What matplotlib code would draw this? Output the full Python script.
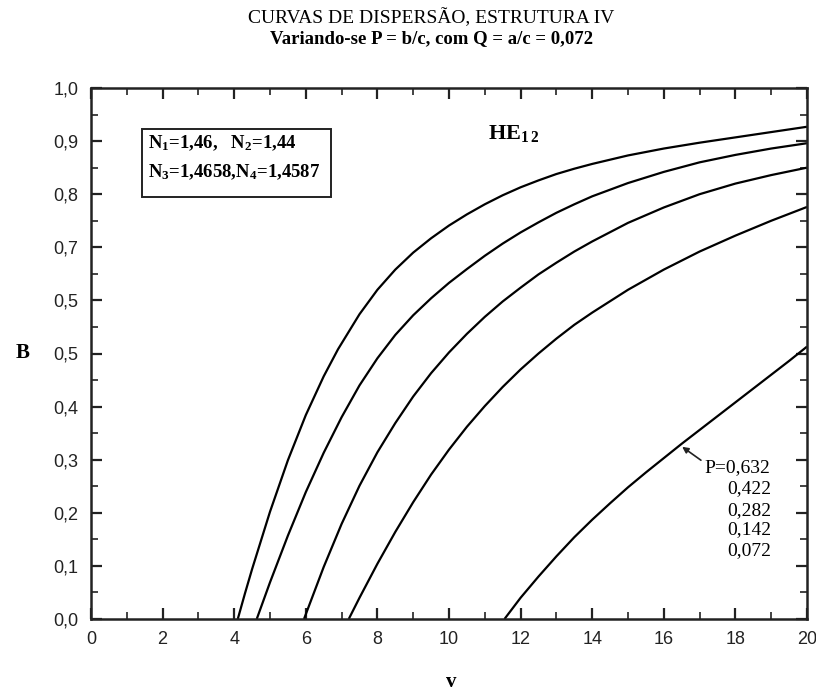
import numpy as np
import matplotlib.pyplot as plt
from matplotlib.ticker import MultipleLocator, FixedLocator, FixedFormatter
from matplotlib.patches import Rectangle

plt.rcParams['mathtext.fontset'] = 'custom'
plt.rcParams['mathtext.rm'] = 'Liberation Serif:bold'
plt.rcParams['mathtext.it'] = 'Liberation Serif:bold'
plt.rcParams['mathtext.bf'] = 'Liberation Serif:bold'

# dispersion curves, V vs B, one per P = b/c (leftmost curve is P = 0,072)
p_labels = ['0,632', '0,422', '0,282', '0,142', '0,072']

v_072 = [4.1, 4.3, 4.5, 5.0, 5.5, 6.0, 6.5, 6.9, 7.5, 8.0, 8.5, 9.0, 9.5, 10.0, 10.5, 11.0,
         11.5, 12.0, 12.5, 13.0, 13.5, 14.0, 15.0, 16.0, 17.0, 18.0, 19.0, 20.0]
b_072 = [0.0, 0.048, 0.094, 0.202, 0.299, 0.384, 0.457, 0.508, 0.574, 0.620, 0.658, 0.690, 0.717, 0.741,
         0.762, 0.781, 0.798, 0.813, 0.826, 0.838, 0.848, 0.857, 0.873, 0.886, 0.897, 0.907, 0.917, 0.927]

v_142 = [4.63, 5.0, 5.5, 6.0, 6.5, 7.0, 7.5, 8.0, 8.5, 9.0, 9.5, 10.0, 10.5, 11.0, 11.5, 12.0,
         12.5, 13.0, 13.5, 14.0, 15.0, 16.0, 17.0, 18.0, 19.0, 20.0]
b_142 = [0.0, 0.069, 0.157, 0.239, 0.313, 0.380, 0.440, 0.491, 0.535, 0.572, 0.604, 0.633, 0.659,
         0.684, 0.707, 0.728, 0.747, 0.765, 0.781, 0.796, 0.821, 0.842, 0.860, 0.874, 0.886, 0.896]

v_282 = [5.95, 6.5, 7.0, 7.5, 8.0, 8.5, 9.0, 9.5, 10.0, 10.5, 11.0, 11.5, 12.0, 12.5, 13.0, 13.5,
         14.0, 15.0, 16.0, 17.0, 18.0, 19.0, 20.0]
b_282 = [0.0, 0.098, 0.179, 0.251, 0.314, 0.369, 0.419, 0.463, 0.502, 0.537, 0.569, 0.598, 0.624,
         0.649, 0.671, 0.692, 0.711, 0.746, 0.775, 0.800, 0.820, 0.836, 0.850]

v_422 = [7.2, 7.5, 8.0, 8.5, 9.0, 9.5, 10.0, 10.5, 11.0, 11.5, 12.0, 12.5, 13.0, 13.5, 14.0, 15.0,
         16.0, 17.0, 18.0, 19.0, 20.0]
b_422 = [0.0, 0.040, 0.104, 0.164, 0.220, 0.272, 0.319, 0.362, 0.401, 0.437, 0.470, 0.500, 0.528,
         0.554, 0.577, 0.620, 0.658, 0.692, 0.722, 0.750, 0.776]

v_632 = [11.55, 12.0, 12.5, 13.0, 13.5, 14.0, 14.5, 15.0, 15.5, 16.0, 16.5, 17.0, 17.5, 18.0, 18.5,
         19.0, 19.5, 20.0]
b_632 = [0.0, 0.040, 0.080, 0.118, 0.154, 0.187, 0.218, 0.248, 0.276, 0.303, 0.330, 0.356, 0.382,
         0.408, 0.434, 0.460, 0.486, 0.513]

curves = [(v_632, b_632), (v_422, b_422), (v_282, b_282), (v_142, b_142), (v_072, b_072)]

xticks = [0, 2, 4, 6, 8, 10, 12, 14, 16, 18, 20]
yticks = [0.0, 0.1, 0.2, 0.3, 0.4, 0.5, 0.6, 0.7, 0.8, 0.9, 1.0]
ytick_labels = ['0,0', '0,1', '0,2', '0,3', '0,4', '0,5', '0,5', '0,7', '0,8', '0,9', '1,0']

fig = plt.figure(figsize=(8.16, 6.91), dpi=100)
ax = fig.add_axes([91/816, 72/691, 716/816, 531/691])

for v, b in curves:
    ax.plot(v, b, color='black', lw=1.6, solid_capstyle='butt', solid_joinstyle='round')

ax.set_xlim(0, 20)
ax.set_ylim(0, 1.0)
ax.xaxis.set_major_locator(FixedLocator(xticks))
ax.xaxis.set_minor_locator(MultipleLocator(1))
ax.yaxis.set_major_locator(FixedLocator(yticks))
ax.yaxis.set_major_formatter(FixedFormatter(ytick_labels))
ax.yaxis.set_minor_locator(MultipleLocator(0.05))
ax.tick_params(which='both', direction='in', top=True, right=True, color='#222222')
ax.tick_params(which='major', length=8, width=1.6)
ax.tick_params(which='minor', length=5, width=1.2)
ax.tick_params(axis='x', which='major', pad=9, labelsize=13, labelcolor='#222222')
ax.tick_params(axis='y', which='major', pad=9, labelsize=13, labelcolor='#222222')
for lab in ax.get_xticklabels() + ax.get_yticklabels():
    lab.set_family('Liberation Sans')
for sp in ax.spines.values():
    sp.set_linewidth(1.8)
    sp.set_color('#222222')

ax.text(-0.096, 0.5, 'B', transform=ax.transAxes, ha='center', va='center',
        family='Liberation Serif', weight='bold', fontsize=15)
ax.text(0.503, -0.119, 'v', transform=ax.transAxes, ha='center', va='center',
        family='Liberation Serif', weight='bold', fontsize=15)

fig.text(0.529, 0.975, 'CURVAS DE DISPERSÃO, ESTRUTURA IV', ha='center', va='center',
         family='Liberation Serif', fontsize=14)
fig.text(0.529, 0.944, 'Variando-se P = b/c, com Q = a/c = 0,072', ha='center', va='center',
         family='Liberation Serif', weight='bold', fontsize=13.5)

# refractive indices box
ax.add_patch(Rectangle((0.071, 0.795), 0.264, 0.128, transform=ax.transAxes,
                       fill=False, lw=1.4, color='#222222'))
ax.text(0.080, 0.896, r'N$_1$=1,46,   N$_2$=1,44', transform=ax.transAxes, ha='left', va='center',
        family='Liberation Serif', weight='bold', fontsize=13.5)
ax.text(0.080, 0.842, r'N$_3$=1,4658,N$_4$=1,4587', transform=ax.transAxes, ha='left', va='center',
        family='Liberation Serif', weight='bold', fontsize=13.5)

ax.text(0.554, 0.915, r'HE$_{1\,2}$', transform=ax.transAxes, ha='left', va='center',
        family='Liberation Serif', weight='bold', fontsize=16)

# P labels with arrow to the last curve
tip_v = 16.45
tip_b = np.interp(tip_v, v_632, b_632)
ax.annotate('', xy=(tip_v, tip_b), xytext=(17.1, 0.296),
            arrowprops=dict(arrowstyle='-|>', color='#222222', lw=1.2, mutation_scale=9))
ax.text(17.12, 0.286, 'P=' + p_labels[0], ha='left', va='center',
        family='Liberation Serif', fontsize=14)
label_y = [0.245, 0.205, 0.168, 0.128]
for lab, y in zip(p_labels[1:], label_y):
    ax.text(17.77, y, lab, ha='left', va='center', family='Liberation Serif', fontsize=14)

fig.savefig('out.png', dpi=100)
